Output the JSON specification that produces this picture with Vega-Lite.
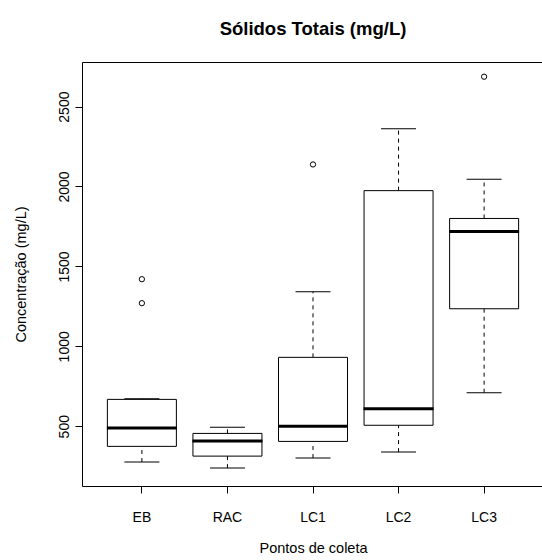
{
  "$schema": "https://vega.github.io/schema/vega-lite/v6.json",
  "width": 462,
  "height": 424,
  "autosize": {"type": "none"},
  "padding": {"left": 82, "top": 62, "right": 0, "bottom": 74},
  "background": "white",
  "title": {"text": "Sólidos Totais (mg/L)", "fontSize": 18.5, "font": "Liberation Sans", "fontWeight": "bold", "anchor": "middle", "baseline": "bottom", "offset": 5, "color": "black"},
  "data": {"values": [
    {"grupo": "EB", "lower": 276, "q1": 374, "median": 489, "q3": 668, "upper": 672},
    {"grupo": "RAC", "lower": 238, "q1": 313, "median": 407, "q3": 455, "upper": 494},
    {"grupo": "LC1", "lower": 301, "q1": 405, "median": 500, "q3": 931, "upper": 1342},
    {"grupo": "LC2", "lower": 338, "q1": 506, "median": 610, "q3": 1974, "upper": 2362},
    {"grupo": "LC3", "lower": 710, "q1": 1235, "median": 1718, "q3": 1800, "upper": 2046}
  ]},
  "encoding": {
    "x": {"field": "grupo", "type": "nominal", "title": "Pontos de coleta",
      "scale": {"type": "band", "domain": ["EB", "RAC", "LC1", "LC2", "LC3"], "paddingInner": 0, "paddingOuter": 0.2},
      "axis": {"labelAngle": 0, "tickSize": 7, "labelPadding": 17, "titlePadding": 17, "domain": false}}
  },
  "layer": [
    {"mark": {"type": "rule", "color": "black", "strokeWidth": 1, "strokeDash": [4, 4]},
     "encoding": {"y": {"field": "q3", "type": "quantitative", "title": "Concentração (mg/L)", "scale": {"domain": [126, 2779], "nice": false, "zero": false},
       "axis": {"values": [500, 1000, 1500, 2000, 2500], "format": "d"}}, "y2": {"field": "upper"}}},
    {"mark": {"type": "rule", "color": "black", "strokeWidth": 1, "strokeDash": [4, 4]},
     "encoding": {"y": {"field": "lower", "type": "quantitative", "title": "Concentração (mg/L)", "axis": {"values": [500, 1000, 1500, 2000, 2500], "format": "d"}}, "y2": {"field": "q1"}}},
    {"mark": {"type": "tick", "color": "black", "opacity": 1, "size": 35, "thickness": 1},
     "encoding": {"y": {"field": "upper", "type": "quantitative", "title": "Concentração (mg/L)", "axis": {"values": [500, 1000, 1500, 2000, 2500], "format": "d"}}}},
    {"mark": {"type": "tick", "color": "black", "opacity": 1, "size": 35, "thickness": 1},
     "encoding": {"y": {"field": "lower", "type": "quantitative", "title": "Concentração (mg/L)", "axis": {"values": [500, 1000, 1500, 2000, 2500], "format": "d"}}}},
    {"mark": {"type": "bar", "fill": "white", "stroke": "black", "strokeWidth": 1, "size": 69, "opacity": 1},
     "encoding": {"y": {"field": "q1", "type": "quantitative", "title": "Concentração (mg/L)", "axis": {"values": [500, 1000, 1500, 2000, 2500], "format": "d"}}, "y2": {"field": "q3"}}},
    {"mark": {"type": "tick", "color": "black", "opacity": 1, "size": 70, "thickness": 3},
     "encoding": {"y": {"field": "median", "type": "quantitative", "title": "Concentração (mg/L)", "axis": {"values": [500, 1000, 1500, 2000, 2500], "format": "d"}}}},
    {"data": {"values": [
      {"grupo": "EB", "valor": 1420},
      {"grupo": "EB", "valor": 1270},
      {"grupo": "LC1", "valor": 2138},
      {"grupo": "LC3", "valor": 2687}
    ]},
     "mark": {"type": "point", "shape": "circle", "filled": false, "size": 28, "strokeWidth": 1, "color": "black", "opacity": 1},
     "encoding": {"y": {"field": "valor", "type": "quantitative", "title": "Concentração (mg/L)", "axis": {"values": [500, 1000, 1500, 2000, 2500], "format": "d"}}}}
  ],
  "config": {
    "font": "Liberation Sans",
    "view": {"stroke": "black", "strokeWidth": 1},
    "axis": {"grid": false, "labelFontSize": 14, "titleFontSize": 14.5, "titleFontWeight": "normal", "labelColor": "black", "titleColor": "black", "tickColor": "black", "labelFont": "Liberation Sans", "titleFont": "Liberation Sans"},
    "axisY": {"domain": false, "tickSize": 7, "labelAngle": -90, "labelAlign": "center", "labelBaseline": "alphabetic", "labelPadding": 7, "titleAngle": -90, "titleAlign": "center", "titleBaseline": "alphabetic", "titleX": -57, "titleY": 212}
  }
}
